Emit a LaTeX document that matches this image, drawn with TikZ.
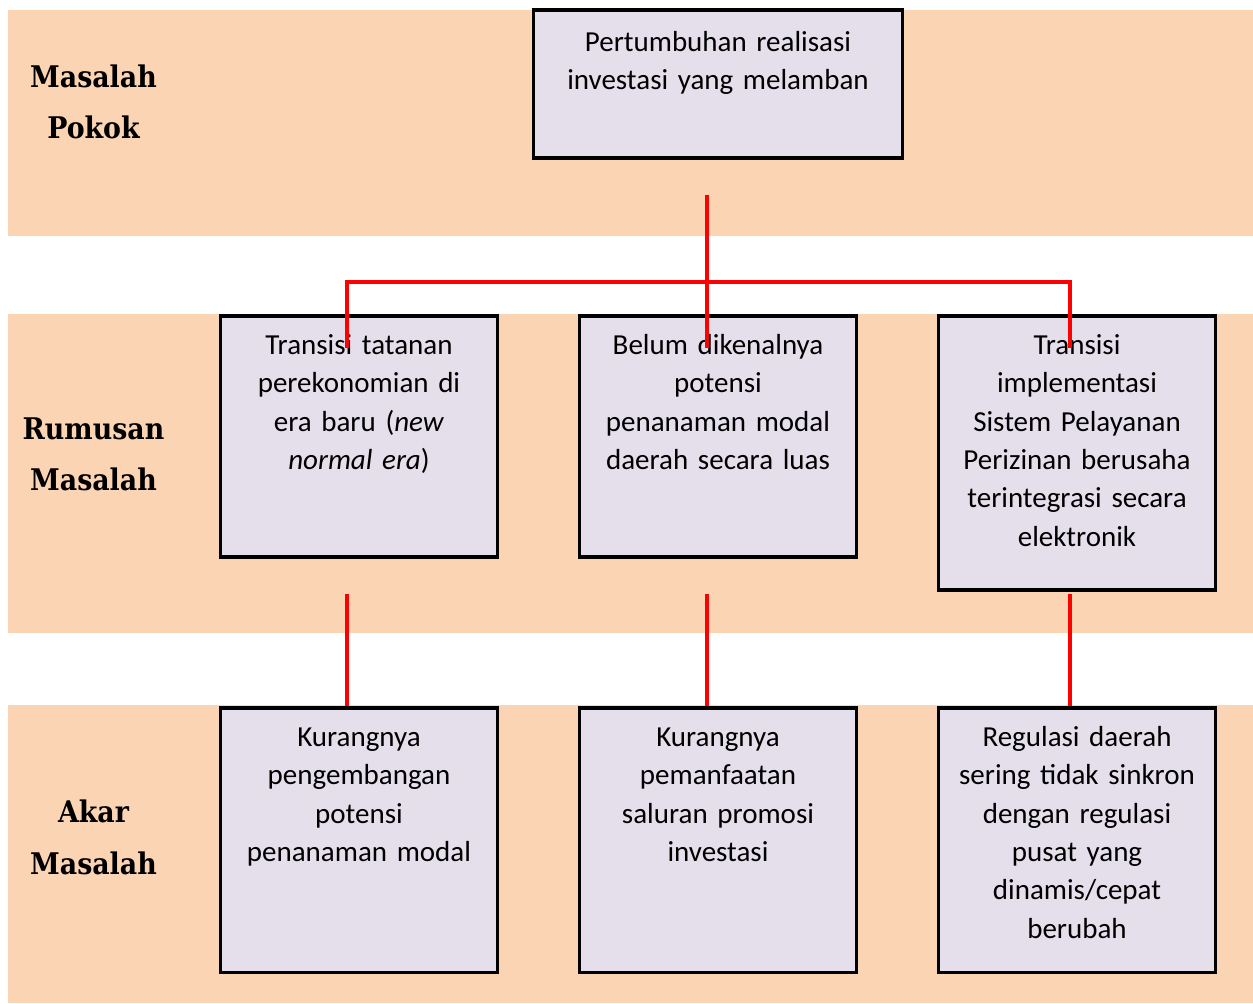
\documentclass[tikz,border=0pt]{standalone}
\usepackage{fontspec}
\newfontfamily\boxfont{Carlito}
\newfontfamily\labelfont{DejaVu Serif Condensed}
\usetikzlibrary{calc}
\definecolor{oranye}{HTML}{FBD4B4}
\definecolor{ungu}{HTML}{E5DFEC}
\newcommand\isi{\boxfont\fontsize{14.5}{19.15}\selectfont}
\newcommand\kepala{\labelfont\bfseries\fontsize{14.9}{25.5}\selectfont}

\begin{document}
\begin{tikzpicture}[x=0.5pt, y=-0.5pt,
  kotak/.style={draw, line width=1.7pt, fill=ungu, inner sep=0pt, align=center, anchor=north, text width=138.5pt, text height=19.25pt, font=\isi},
  judul/.style={inner sep=0pt, align=center, anchor=base, text width=90pt, font=\kepala},
  garis/.style={red, line width=1.8pt}]
\useasboundingbox (0,0) rectangle (1253,1004);
\fill[oranye] (8,10) rectangle (1253,236);
\fill[oranye] (8,314) rectangle (1253,633);
\fill[oranye] (8,705) rectangle (1253,1003);

\node[judul] (j1) at (93.5,88) {Masalah\\Pokok};
\node[judul] (j2) at (93.5,440) {Rumusan\\Masalah};
\node[judul] (j3) at (93.5,823) {Akar\\Masalah};

\node[kotak, text width=184.5pt, text height=20.75pt, text depth=53.25pt] (pokok) at (718,8.5) {Pertumbuhan realisasi\\investasi yang melamban};

\node[kotak, text depth=101.25pt] (rm1) at (359,314.5) {Transisi tatanan\\perekonomian di\\era baru (\textit{new}\\\textit{normal era})};
\node[kotak, text depth=101.25pt] (rm2) at (718,314.5) {Belum dikenalnya\\potensi\\penanaman modal\\daerah secara luas};
\node[kotak, text depth=117.75pt] (rm3) at (1077,314.5) {Transisi\\implementasi\\Sistem Pelayanan\\Perizinan berusaha\\terintegrasi secara\\elektronik};

\node[kotak, text depth=112.75pt] (akar1) at (359,706.5) {Kurangnya\\pengembangan\\potensi\\penanaman modal};
\node[kotak, text depth=112.75pt] (akar2) at (718,706.5) {Kurangnya\\pemanfaatan\\saluran promosi\\investasi};
\node[kotak, text depth=112.75pt] (akar3) at (1077,706.5) {Regulasi daerah\\sering tidak sinkron\\dengan regulasi\\pusat yang\\dinamis/cepat\\berubah};

\coordinate (c0) at (707,195);
\coordinate (jn) at (707,282);
\draw[garis] (c0) -- ([xshift=-5.5pt,yshift=-17pt]rm2.north);
\draw[garis] ([xshift=-6pt,yshift=-17pt]rm1.north) |- (jn) -| ([xshift=-3.5pt,yshift=-17pt]rm3.north);
\foreach \b/\d in {1/-6pt,2/-5.5pt,3/-3.5pt}
  \draw[garis] ([xshift=\d]akar\b.north) -- ++(0,-112);
\end{tikzpicture}
\end{document}
